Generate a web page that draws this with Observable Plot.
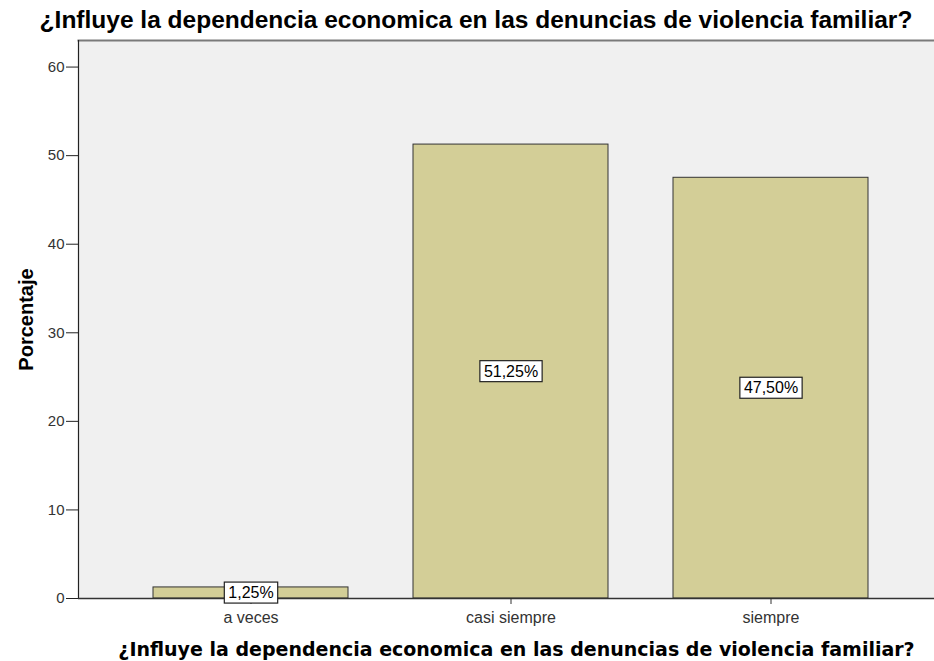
<!DOCTYPE html>
<html>
<head>
<meta charset="utf-8">
<script src="https://cdn.jsdelivr.net/npm/d3@7"></script>
<script src="https://cdn.jsdelivr.net/npm/@observablehq/plot@0.6"></script>
<style>
  body { margin: 0; background: white; width: 934px; height: 661px; overflow: hidden; }
  #title { height: 38px; font: bold 24.5px "Liberation Sans", Arial, sans-serif; text-align: center; padding-left: 18px; line-height: 40px; box-sizing: border-box; color: #000; white-space: nowrap; }
  #chart svg { display: block; overflow: visible; }
  g[aria-label="y-axis label"] text { font-weight: bold; font-size: 20px; fill: #000; }
  g[aria-label="y-axis tick label"] text { font-size: 15px; }
</style>
</head>
<body>
<div id="title"></div>
<div id="chart"></div>
<script>
const titleText = "¿Influye la dependencia economica en las denuncias de violencia familiar?";
const categories = ["a veces", "casi siempre", "siempre"];
const percentages = [1.25, 51.25, 47.50];
const yTicks = [0, 10, 20, 30, 40, 50, 60];
const yLabel = "Porcentaje";

const data = categories.map((c, i) => ({cat: c, pct: percentages[i], label: percentages[i].toFixed(2).replace(".", ",") + "%"}));

document.getElementById("title").textContent = titleText;

const chart = Plot.plot({
  width: 934,
  height: 623,
  marginTop: 2,
  marginBottom: 63,
  marginLeft: 78,
  marginRight: 0,
  style: {fontFamily: "'Liberation Sans', Arial, sans-serif", fontSize: "16px", color: "#333", background: "white", overflow: "visible"},
  x: {domain: categories, range: [78, 943], paddingInner: 0.25, paddingOuter: 0.288, label: null},
  y: {domain: [0, 63], label: null},
  marks: [
    Plot.frame({fill: "#f0f0f0"}),
    Plot.frame({anchor: "top", stroke: "#7a7a7a", strokeWidth: 2}),
    Plot.barY(data, {x: "cat", y: "pct", fill: "#d3ce97", stroke: "#333", strokeWidth: 1}),
    Plot.frame({anchor: "left", stroke: "#222", strokeWidth: 1.2}),
    Plot.ruleY([0], {stroke: "#333", strokeWidth: 1.5}),
    Plot.axisY({ticks: yTicks, tickSize: 12, tickPadding: 2, stroke: "#222", label: yLabel, labelAnchor: "center", labelArrow: false, labelOffset: 60}),
    Plot.axisX({tickSize: 6, tickPadding: 7, stroke: "#333", label: null}),
    Plot.text(data, {x: "cat", y: d => d.pct / 2, text: "label", fontSize: 16, fill: "#000", className: "barlabel"}),
    Plot.text([titleText], {frameAnchor: "bottom", dy: 57, dx: 10, fontSize: 19, fontWeight: "bold", fontFamily: "'DejaVu Sans', Verdana, sans-serif", fill: "#000"})
  ]
});
document.getElementById("chart").append(chart);

// white boxes behind the percentage labels
d3.select(chart).selectAll("g.barlabel text").each(function() {
  const b = this.getBBox();
  const r = d3.select(this.parentNode).insert("rect", () => this)
    .attr("x", b.x - 4).attr("y", b.y - 2)
    .attr("width", b.width + 8).attr("height", b.height + 4)
    .attr("fill", "white").attr("stroke", "#222").attr("stroke-width", 1.2);
  const t = this.getAttribute("transform");
  if (t) r.attr("transform", t);
});
</script>
</body>
</html>
